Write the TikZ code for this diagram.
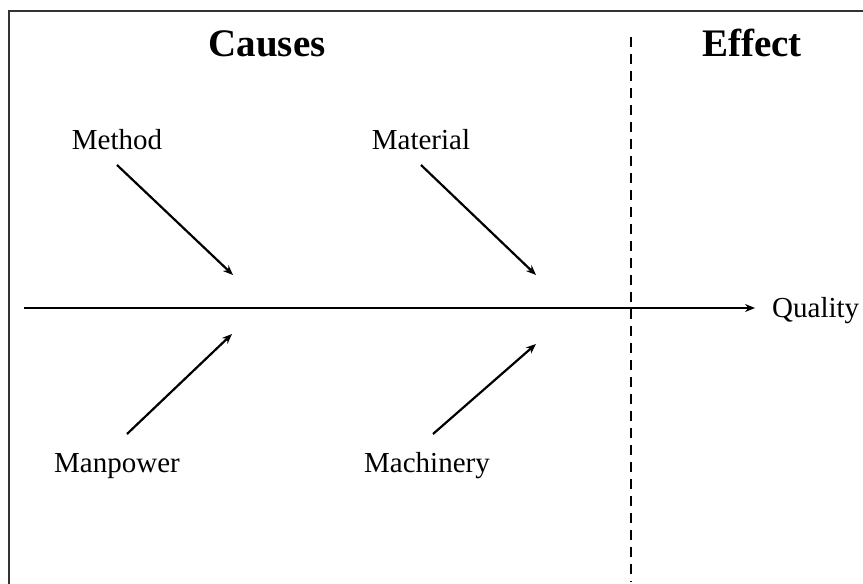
\documentclass[tikz,border=0pt]{standalone}
\usepackage{fontspec}
\setmainfont{Liberation Serif}
\usetikzlibrary{arrows.meta}
\begin{document}
\begin{tikzpicture}[x=1pt,y=1pt,
  bone/.style={line width=2.2pt,-{Stealth[length=10pt,width=8pt]}},
  lbl/.style={font=\fontsize{29}{32}\selectfont,inner sep=0pt,anchor=base},
  head/.style={font=\fontsize{39}{42}\selectfont\bfseries,inner sep=0pt,anchor=base}]
  \useasboundingbox (0,0) rectangle (863,584);
  % outer frame (top and left edges)
  \draw[line width=2.5pt,black!80] (9,0) -- (9,573) -- (863,573);
  % headings
  \node[head] (causes) at (267,527) {Causes};
  \node[head] (effect) at (752,527) {Effect};
  % divider between causes and effect
  \coordinate (divtop) at (631,547);
  \coordinate (divbot) at (631,2);
  \draw[line width=2.2pt,dash pattern=on 10pt off 7pt] (divtop) -- (divbot);
  % spine
  \coordinate (spine) at (24,276);
  \coordinate (spinehead) at (755,276);
  \node[lbl,anchor=base west] (quality) at (772,266) {Quality};
  \draw[bone] (spine) -- (spinehead);
  % cause labels
  \node[lbl] (method) at (117,434) {Method};
  \node[lbl] (material) at (421,434) {Material};
  \node[lbl] (manpower) at (117,111) {Manpower};
  \node[lbl] (machinery) at (427,111) {Machinery};
  % branch start points just off the labels
  \coordinate (s1) at (117,419);
  \coordinate (s2) at (421,419);
  \coordinate (s3) at (127,150);
  \coordinate (s4) at (433,150);
  % branch end points near the spine
  \coordinate (m1) at (233,309);
  \coordinate (m2) at (536,309);
  \coordinate (m3) at (232,250);
  \coordinate (m4) at (536,240);
  \draw[bone] (s1) -- (m1);
  \draw[bone] (s2) -- (m2);
  \draw[bone] (s3) -- (m3);
  \draw[bone] (s4) -- (m4);
\end{tikzpicture}
\end{document}
